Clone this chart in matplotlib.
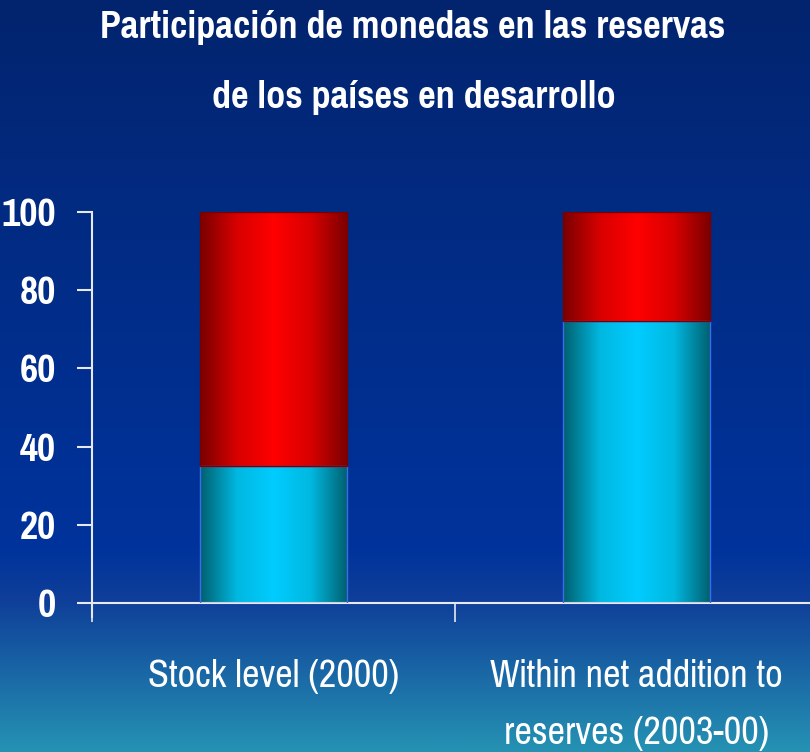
import numpy as np
import matplotlib
matplotlib.use("Agg")
import matplotlib.pyplot as plt
from matplotlib.colors import LinearSegmentedColormap

categories = ["Stock level (2000)", "Within net addition to\nreserves (2003-00)"]
cyan_share = [35, 72]
red_share = [65, 28]
yticks = [0, 20, 40, 60, 80, 100]
title_lines = ["Participación de monedas en las reservas", "de los países en desarrollo"]

plt.rcParams['font.family'] = ['Pragati Narrow', 'DejaVu Sans']

W, H = 810, 752
fig = plt.figure(figsize=(W / 100, H / 100), dpi=100)

# background gradient
bg = fig.add_axes([0, 0, 1, 1], zorder=0)
bg_cmap = LinearSegmentedColormap.from_list(
    "bg", [(0.0, "#2592b3"), (0.2, "#0f3f99"), (0.27, "#00339c"), (0.75, "#022a80"), (1.0, "#03246e")])
grad = np.linspace(0, 1, 256).reshape(-1, 1)
bg.imshow(grad, aspect="auto", cmap=bg_cmap, origin="lower", extent=[0, 1, 0, 1])
bg.set_axis_off()

ax = fig.add_axes([92 / W, (H - 603) / H, (818 - 92) / W, (603 - 212) / H], zorder=1)
ax.patch.set_alpha(0)

x = np.arange(len(categories)) + 0.5
w = 0.405
b1 = ax.bar(x, cyan_share, w, color="none", edgecolor="#3a6cf0", linewidth=1, zorder=3)
b2 = ax.bar(x, red_share, w, bottom=cyan_share, color="none", edgecolor="#7a0000", linewidth=1, zorder=3)

cyan_cmap = LinearSegmentedColormap.from_list("cy", ["#005f6e", "#00b8e0", "#00ccff", "#00b8e0", "#005f6e"])
red_cmap = LinearSegmentedColormap.from_list("rd", ["#7a0000", "#d80000", "#ff0000", "#d80000", "#7a0000"])
hgrad = np.linspace(0, 1, 256).reshape(1, -1)
for bars, cm in ((b1, cyan_cmap), (b2, red_cmap)):
    for p in bars:
        x0, y0 = p.get_x(), p.get_y()
        im = ax.imshow(hgrad, aspect="auto", cmap=cm,
                       extent=[x0, x0 + p.get_width(), y0, y0 + p.get_height()], zorder=2)
        im.set_clip_path(p)

ax.set_xlim(0, 2)
ax.set_ylim(0, 100)
ax.set_yticks(yticks)
ax.set_xticks([0, 1, 2])
ax.set_xticklabels([])
ax.tick_params(axis="x", which="major", direction="out", length=14, width=1.2, color="#e8e8f0")
ax.tick_params(axis="y", direction="out", length=11, width=1.5, color="#e8e8f0",
               labelsize=31, labelcolor="white", pad=15)
for lab in ax.get_yticklabels():
    lab.set_fontweight("bold")
for s in ("top", "right"):
    ax.spines[s].set_visible(False)
for s in ("left", "bottom"):
    ax.spines[s].set_color("#e8e8f0")
    ax.spines[s].set_linewidth(1.5)
ax.spines["left"].set_bounds(-3.6, 100)

# category labels, two-line one drawn with its own line spacing
for xi, lab in zip(x, categories):
    for k, line in enumerate(lab.split("\n")):
        ax.annotate(line, (xi, 0), xycoords=("data", "axes fraction"),
                    xytext=(0, -(687 - 603) - k * 57), textcoords="offset pixels",
                    ha="center", va="baseline", color="white", fontsize=30)

fig.text(413 / W, 1 - 38 / H, title_lines[0], ha="center", va="baseline",
         color="white", fontsize=30, fontweight="bold")
fig.text(414 / W, 1 - 108 / H, title_lines[1], ha="center", va="baseline",
         color="white", fontsize=30, fontweight="bold")

fig.savefig("out.png", dpi=100)
